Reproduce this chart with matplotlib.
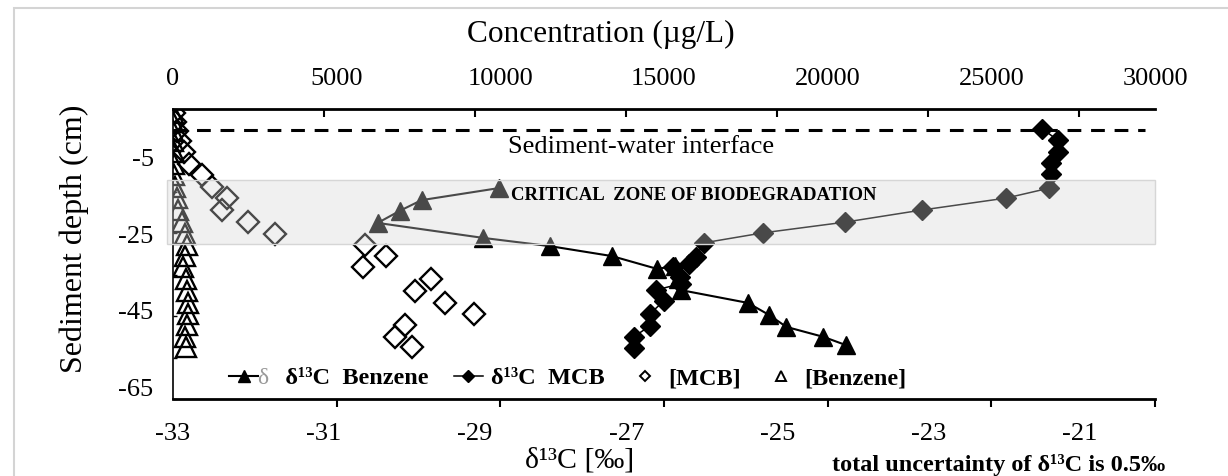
import numpy as np
import matplotlib
matplotlib.use("Agg")
import matplotlib.pyplot as plt
from matplotlib.lines import Line2D
from matplotlib.patches import Rectangle

plt.rcParams['font.family'] = ['Liberation Serif', 'DejaVu Serif']
plt.rcParams['axes.unicode_minus'] = False

# ---------------- data ----------------
# delta13C benzene (per mil) vs depth (cm)
d13c_benz = [-28.69, -29.71, -30.00, -30.29, -28.90, -28.01, -27.19, -26.59, -26.36,
             -26.32, -26.28, -25.39, -25.11, -24.88, -24.39, -24.09]
depth_d13c_benz = [-14.1, -17.0, -19.6, -22.5, -26.1, -28.1, -30.5, -33.6, -32.9,
                   -36.0, -38.7, -41.8, -44.7, -47.6, -50.0, -52.0]

# delta13C MCB
d13c_mcb = [-21.49, -21.29, -21.29, -21.38, -21.38, -21.40, -21.97, -23.09, -24.10,
            -25.19, -25.97, -26.08, -26.17, -26.38, -26.29, -26.28, -26.61, -26.50,
            -26.69, -26.69, -26.90, -26.90]
depth_d13c_mcb = [0.2, -2.5, -5.4, -8.0, -10.7, -14.1, -16.5, -19.4, -22.3,
                  -24.9, -27.3, -30.7, -32.4, -33.1, -35.6, -37.2, -38.7, -41.3,
                  -44.5, -47.4, -50.0, -52.7]

# concentrations (ug/L) vs depth
depth_conc = [4.0, 1.9, -0.3, -2.7, -5.4, -8.3, -10.9, -13.8, -16.5, -19.4, -22.3,
              -25.2, -27.8, -30.5, -33.1, -36.0, -38.9, -41.8, -44.5, -47.1, -50.0, -52.5]
conc_mcb = [30, 60, 120, 210, 340, 490, 890, 1190, 1650, 1500, 2290,
            3120, 5870, 6510, 5810, 7890, 7400, 8320, 9200, 7100, 6790, 7310]
conc_benz = [0, 0, 0, 0, 30, 30, 30, 60, 120, 150, 275,
             370, 430, 370, 310, 400, 430, 460, 460, 430, 370, 400]

d13c_labels = np.arange(-33, -20, 2)
conc_labels = np.arange(0, 30001, 5000)
depth_labels = [-5, -25, -45, -65]
zone_top, zone_bottom = -12.1, -27.6

# two overlaid Excel charts: the depth axis of the plot and the slightly
# different depth axis that carries the printed labels
depth_lim = (-65, 5)
label_lim = (-67.9, 7.5)


def to_label(d):
    k = (label_lim[1] - label_lim[0]) / (depth_lim[1] - depth_lim[0])
    return label_lim[0] + (np.asarray(d) - depth_lim[0]) * k


def to_depth(v):
    k = (depth_lim[1] - depth_lim[0]) / (label_lim[1] - label_lim[0])
    return depth_lim[0] + (np.asarray(v) - label_lim[0]) * k


# ---------------- figure ----------------
fig = plt.figure(figsize=(12.28, 4.76), dpi=100)
ax = fig.add_axes([173 / 1228, 1 - 399 / 476, 982 / 1228, 290 / 476])
ax.set_xlim(-33, -20)
ax.set_ylim(*depth_lim)
ax2 = ax.twiny()
ax2.set_xlim(0, 30000)

for s in ['top', 'right']:
    ax.spines[s].set_visible(False)
for s in ['bottom', 'left', 'right']:
    ax2.spines[s].set_visible(False)
ax.spines['bottom'].set_linewidth(2.0)
ax.spines['left'].set_linewidth(1.2)
ax2.spines['top'].set_linewidth(2.0)

# bottom axis: labels every 2 permil, marks split the axis in 6
ax.set_xticks(d13c_labels)
ax.set_xticklabels([str(v) for v in d13c_labels])
ax.set_xticks(np.linspace(-33, -20, 7), minor=True)
ax.tick_params(axis='x', which='major', length=0, pad=17, labelsize=19)
ax.tick_params(axis='x', which='minor', length=6, width=1.5, direction='out')

# top axis: concentration labels, marks at the delta positions
ax2.set_xticks(conc_labels)
ax2.set_xticklabels([str(v) for v in conc_labels])
ax2.set_xticks(np.interp(d13c_labels, [-33, -20], [0, 30000]), minor=True)
ax2.tick_params(axis='x', which='major', length=0, pad=14, labelsize=19)
ax2.tick_params(axis='x', which='minor', length=6, width=1.5, direction='in')

# depth axis: marks every 10 cm, labels from the label axis
ax.set_yticks([])
ax.set_yticks(np.arange(-65, 6, 10), minor=True)
ax.tick_params(axis='y', which='minor', length=3, width=1, direction='in')
sec = ax.secondary_yaxis('left', functions=(to_label, to_depth))
sec.spines['left'].set_visible(False)
sec.set_yticks(depth_labels)
sec.tick_params(axis='y', length=0, pad=14, labelsize=19)
ax.set_ylabel('Sediment depth (cm)', fontsize=23, va='center')
ax.yaxis.set_label_coords((74 - 173) / 982, (399 - 239) / 290)

# ---------------- series ----------------
ax.plot(d13c_benz, depth_d13c_benz, color='k', lw=1.5, marker='^', ms=13,
        zorder=3)
ax.plot(d13c_mcb, depth_d13c_mcb, color='k', lw=1.1, marker='D', ms=10,
        zorder=3)
ax2.plot(conc_mcb, depth_conc, ls='none', marker='D', ms=11, mfc='none',
         mec='k', mew=1.7, zorder=3)
ax2.plot(conc_benz, depth_conc, ls='none', marker='^', ms=14, mfc='none',
         mec='k', mew=1.7, zorder=3)

# sediment-water interface and critical zone
ax2.axhline(0, xmin=0, xmax=0.99, color='k', lw=2.2, ls=(0, (4.5, 3.2)), zorder=2)
ax2.text(-26.8, -4.2, 'Sediment-water interface', transform=ax.transData,
         ha='center', va='center', fontsize=19, zorder=6)
ax2.axhspan(zone_bottom, zone_top, xmin=-0.006, xmax=1.0, fc=(0.83, 0.83, 0.83, 0.35),
            ec='#d6d6d6', lw=1, zorder=5, clip_on=False)
ax2.text(-28.53, -15.8, 'CRITICAL  ZONE OF BIODEGRADATION', transform=ax.transData,
         ha='left', va='center', fontsize=13.5, fontweight='bold', zorder=6)

# axis titles
ax2.set_xlabel('Concentration (\u00b5g/L)', fontsize=22.5, va='center')
ax2.xaxis.set_label_coords((601 - 173) / 982, (399 - 34) / 290)
ax.set_xlabel('\u03b4\u00b9\u00b3C [\u2030]', fontsize=21.5, va='center')
ax.xaxis.set_label_coords((580 - 173) / 982, (399 - 461) / 290)

# legend
handles = [
    Line2D([], [], color='k', lw=1.5, marker='^', ms=9),
    Line2D([], [], color='k', lw=1.1, marker='D', ms=6.5),
    Line2D([], [], ls='none', marker='D', ms=5.5, mfc='none', mec='k', mew=1.4),
    Line2D([], [], ls='none', marker='^', ms=7, mfc='none', mec='k', mew=1.4),
]
labels = ['   \u03b4\u00b9\u00b3C  Benzene', '\u03b4\u00b9\u00b3C  MCB', '[MCB]', '[Benzene]']
leg = ax2.legend(handles, labels, ncol=4, loc='center left', frameon=False,
                 bbox_to_anchor=((229 - 173) / 982, (399 - 378) / 290),
                 prop={'weight': 'bold', 'size': 17.5}, handlelength=1.2,
                 handletextpad=0.35, columnspacing=1.05, borderpad=0, borderaxespad=0)
leg.set_zorder(7)
ax2.text((263 - 173) / 982, (399 - 378) / 290, '\u03b4', transform=ax.transAxes,
         color='#9a9a9a', fontsize=17, ha='center', va='center', zorder=7)

fig.text(832 / 1228, 1 - 465 / 476, 'total uncertainty of \u03b4\u00b9\u00b3C is 0.5\u2030',
         fontsize=17.5, fontweight='bold', ha='left', va='center')

# outer chart frame
fig.add_artist(Rectangle((14 / 1228, -0.1), 1.2, 1.1 - 8 / 476, transform=fig.transFigure,
                         fill=False, ec='#d4d4d4', lw=1.5))

fig.savefig('out.png', dpi=100)
